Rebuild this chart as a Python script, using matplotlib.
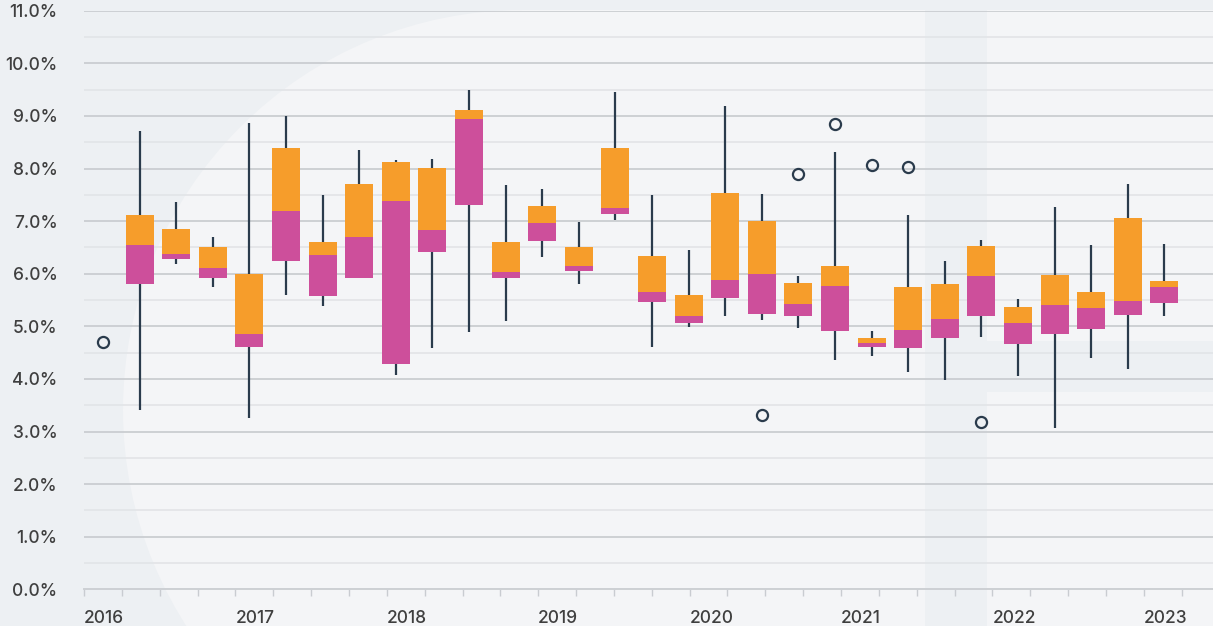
import numpy as np
import matplotlib
matplotlib.use("Agg")
import matplotlib.pyplot as plt
from matplotlib.patches import Circle, Rectangle

plt.rcParams['font.family'] = ['Inter', 'DejaVu Sans']

# quarterly distributions, 2016 Q1 .. 2023 Q2 (values in %)
quarters = ['%d Q%d' % (y, q) for y in range(2016, 2024) for q in range(1, 5)][:30]

whisk_hi = [np.nan, 8.71, 7.36, 6.69, 8.86, 9.00, 7.49, 8.36, 8.16, 8.19,
            9.49, 7.69, 7.61, 6.99, 9.45, 7.49, 6.46, 9.19, 7.52, 5.95,
            8.32, 4.92, 7.12, 6.25, 6.64, 5.51, 7.26, 6.54, 7.70, 6.56]
q3 = [np.nan, 7.12, 6.85, 6.51, 6.00, 8.39, 6.60, 7.71, 8.12, 8.01,
      9.11, 6.60, 7.29, 6.51, 8.39, 6.34, 5.60, 7.53, 7.00, 5.82,
      6.15, 4.78, 5.75, 5.80, 6.53, 5.37, 5.98, 5.65, 7.06, 5.86]
median = [np.nan, 6.55, 6.37, 6.11, 4.85, 7.19, 6.36, 6.70, 7.38, 6.83,
          8.94, 6.03, 6.96, 6.15, 7.25, 5.65, 5.20, 5.88, 5.99, 5.42,
          5.77, 4.68, 4.93, 5.14, 5.96, 5.06, 5.40, 5.35, 5.48, 5.75]
q1 = [np.nan, 5.81, 6.27, 5.92, 4.61, 6.25, 5.58, 5.92, 4.29, 6.42,
      7.31, 5.91, 6.63, 6.06, 7.14, 5.47, 5.07, 5.54, 5.24, 5.20,
      4.92, 4.61, 4.59, 4.78, 5.20, 4.67, 4.86, 4.95, 5.22, 5.45]
whisk_lo = [np.nan, 3.40, 6.18, 5.74, 3.25, 5.60, 5.38, 5.92, 4.07, 4.58,
            4.90, 5.10, 6.32, 5.81, 7.03, 4.61, 4.99, 5.20, 5.12, 4.96,
            4.36, 4.44, 4.13, 3.98, 4.79, 4.06, 3.07, 4.39, 4.18, 5.20]

outlier_idx = [0, 18, 19, 20, 21, 22, 24]
outlier_val = [4.71, 3.31, 7.89, 8.85, 8.07, 8.02, 3.19]

years = [2016, 2017, 2018, 2019, 2020, 2021, 2022, 2023]

ORANGE = '#f69d2b'
MAGENTA = '#cd4f9b'
DARK = '#2a3b4c'
BG_DARK = '#edf0f3'
BG_LIGHT = '#f4f5f7'
TXT = '#3f3f3f'

W, H = 12.13, 6.26
fig = plt.figure(figsize=(W, H), dpi=100)
fig.patch.set_facecolor(BG_DARK)

# decorative background shapes (in inches)
def bg(p):
    p.set_transform(fig.dpi_scale_trans)
    p.set_zorder(-10)
    fig.patches.append(p)

bg(Circle((5.23, H - 4.10), 4.00, facecolor=BG_LIGHT, edgecolor='none'))
bg(Rectangle((5.23, 0), 4.02, H - 0.10, facecolor=BG_LIGHT, edgecolor='none'))
bg(Rectangle((9.87, H - 3.41), 2.5, 3.31, facecolor=BG_LIGHT, edgecolor='none'))
bg(Rectangle((9.87, 0), 2.5, H - 3.92, facecolor=BG_LIGHT, edgecolor='none'))

ax = fig.add_axes([84 / 1213, 1 - 589.3 / 626, 1 - 84 / 1213, (589.3 - 10.7) / 626])
ax.set_facecolor('none')

x = np.arange(len(quarters))
q1a, meda, q3a = np.array(q1), np.array(median), np.array(q3)
bw = 0.765

ax.vlines(x, whisk_lo, whisk_hi, color=DARK, linewidth=1.6, zorder=2)
ax.bar(x, meda - q1a, bottom=q1a, width=bw, color=MAGENTA, zorder=3)
ax.bar(x, q3a - meda, bottom=meda, width=bw, color=ORANGE, zorder=3)
ax.plot(np.array(outlier_idx), outlier_val, 'o', markersize=8, markerfacecolor='none',
        markeredgecolor=DARK, markeredgewidth=1.6, zorder=4)

# time axis: quarter ticks are slightly wider than the box slots
qstep = 37.85 / 36.6
x0 = -19.0 / 36.6
ax.set_xlim(x0, (1213 - 103) / 36.6)
ax.set_ylim(0, 11)

ax.set_xticks(x0 + qstep * np.arange(30), minor=True)
ax.set_xticks(x0 + qstep * 4 * np.arange(len(years)))
ax.set_xticklabels([str(y) for y in years], ha='left', fontweight='medium')
ax.tick_params(axis='x', which='both', length=5, width=1, color='#c9ccd1',
               labelsize=12.5, labelcolor=TXT, pad=10)

yt = np.arange(0, 11.5, 1)
ax.set_yticks(yt)
ax.set_yticklabels(['%.1f%%' % v for v in yt], fontweight='medium')
ax.set_yticks(np.arange(0.5, 11, 1), minor=True)
ax.tick_params(axis='y', which='both', length=0, labelsize=12.5,
               labelcolor=TXT, pad=19)

ax.grid(axis='y', which='major', color='#cdd0d4', linewidth=1.4, zorder=0)
ax.grid(axis='y', which='minor', color='#e2e4e7', linewidth=1.2, zorder=0)
ax.set_axisbelow(True)
for s in ['top', 'right', 'left']:
    ax.spines[s].set_visible(False)
ax.spines['bottom'].set_color('#cdd0d4')
ax.spines['bottom'].set_linewidth(1.4)

fig.savefig('out.png', dpi=100, facecolor=fig.get_facecolor())
